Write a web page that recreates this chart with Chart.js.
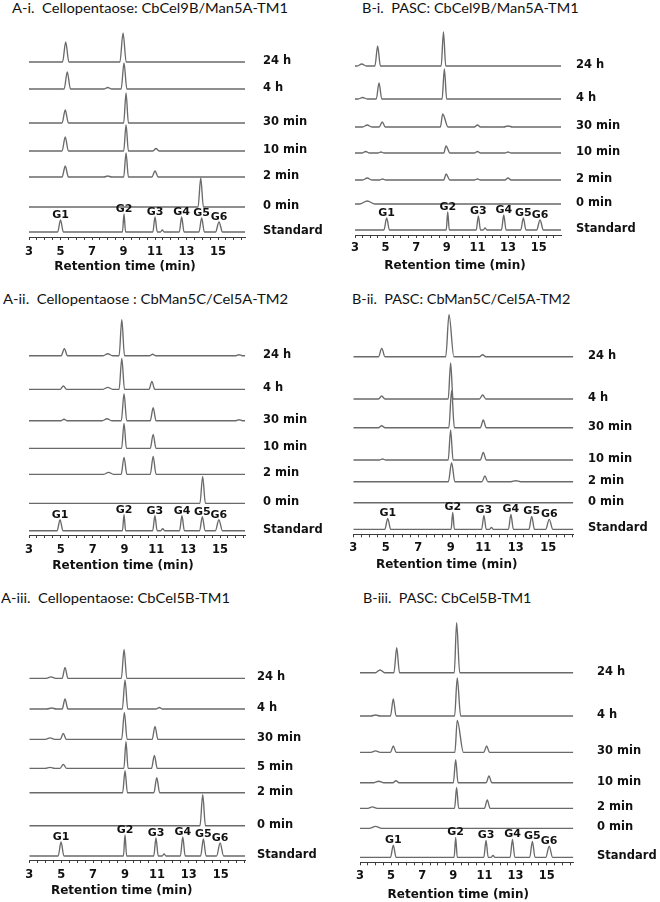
<!DOCTYPE html>
<html><head><meta charset="utf-8">
<script src="https://cdn.jsdelivr.net/npm/chart.js@4.4.1/dist/chart.umd.min.js"></script>
<style>
html,body{margin:0;padding:0;background:#fff;}
#wrap{position:relative;width:660px;height:902px;overflow:hidden;background:#fff;}
canvas{position:absolute;}
.ttl{position:absolute;font-family:Lato,'Open Sans',sans-serif;font-size:13px;line-height:13px;white-space:pre;color:#111;transform-origin:0 0;}
</style></head><body><div id="wrap"></div>
<script>
// ---------- DATA ----------
const timeLabels   = ['24 h','4 h','30 min','10 min','2 min','0 min','Standard'];
const timeLabelsA3 = ['24 h','4 h','30 min','5 min','2 min','0 min','Standard'];
const standardNames = ['G1','G2','G3','G4','G5','G6'];
const axisTitle = 'Retention time (min)';
const xTickLabels = [3,5,7,9,11,13,15];

// peaks per trace: [retention time (min), peak height, half-width left, half-width right]
const peaksA1 = [
  [[5.33,20,0.2],[8.97,29,0.2]],
  [[5.43,17,0.2],[8.0,1.5,0.25],[9.03,26,0.18]],
  [[5.3,13,0.2],[9.16,30,0.15]],
  [[5.3,14,0.2],[9.16,26,0.15],[11.06,2.5,0.2]],
  [[5.3,11,0.2],[8.0,1,0.25],[9.16,24,0.15],[11.0,6,0.2]],
  [[13.9,29,0.17]],
  [[5.0,12,0.18],[9.03,18,0.1],[11.0,15,0.14],[11.46,2,0.12],[12.69,15,0.15],[13.96,14,0.17],[15.06,10,0.22]]
];
const stackA1 = [175,148,114,86,60,30,5];

const peaksB1 = [
  [[3.44,2,0.3],[4.48,20,0.18],[8.78,34,0.15]],
  [[3.5,1.5,0.3],[4.57,16,0.18],[8.84,30,0.15]],
  [[3.8,2,0.3],[4.78,5,0.2],[8.73,13,0.15,0.35],[11.0,2,0.2],[13.0,1,0.3]],
  [[3.7,1.5,0.25],[4.7,1,0.2],[8.95,7,0.15,0.25],[11.0,1.5,0.2],[13.0,1,0.2]],
  [[3.8,2,0.3],[4.8,1,0.2],[8.95,6,0.15,0.25],[11.0,1,0.2],[13.0,2,0.2]],
  [[3.8,3,0.5]],
  [[5.07,12,0.18],[9.06,18,0.1],[11.06,14,0.14],[11.5,2,0.12],[12.72,15,0.15],[14.0,12,0.17],[15.09,10,0.22]]
];
const stackB1 = [169,136,108,82,55,31,5];

const peaksA2 = [
  [[5.22,7,0.2],[7.95,2,0.3],[8.83,36,0.17],[10.77,1.5,0.2],[16.2,1,0.2]],
  [[5.16,3.3,0.2],[7.95,2,0.3],[8.83,31,0.17],[10.72,8,0.18]],
  [[5.2,1.5,0.2],[7.9,2,0.3],[8.97,27,0.17],[10.8,13,0.18],[16.2,1,0.2]],
  [[8.97,25,0.15],[10.8,14,0.18]],
  [[8.0,2,0.3],[8.97,17,0.18],[10.8,18,0.18]],
  [[13.91,27,0.17]],
  [[4.95,11,0.18],[8.97,16,0.1],[10.91,15,0.14],[11.4,2,0.12],[12.61,15,0.15],[13.89,14,0.17],[14.93,11,0.22]]
];
const stackA2 = [179.3,145.7,114.3,86.7,60.7,31.7,4.3];

const peaksB2 = [
  [[4.75,8.3,0.2],[8.89,42,0.2,0.3],[10.96,2,0.2]],
  [[4.75,3,0.2],[8.99,36,0.15],[10.96,4,0.2]],
  [[4.75,2,0.2],[9.05,37,0.17],[11.0,7.7,0.18]],
  [[4.8,1,0.2],[8.99,30,0.15],[11.0,7.7,0.18]],
  [[9.05,19,0.2],[11.1,5.7,0.18],[13.0,1,0.3]],
  [],
  [[5.12,11,0.18],[9.12,17,0.1],[11.04,14,0.14],[11.5,2,0.12],[12.7,15,0.15],[13.98,13,0.17],[15.06,10,0.22]]
];
const stackB2 = [177.6,135.3,106.6,74.3,52.6,31.6,5];

const peaksA3 = [
  [[4.36,1.5,0.3],[5.24,11,0.18],[8.94,29,0.17]],
  [[4.4,1,0.3],[5.24,10,0.18],[9.0,29,0.17],[11.15,1.5,0.2]],
  [[4.3,1.5,0.3],[5.13,6,0.18],[8.96,27,0.17],[10.88,13,0.18]],
  [[4.3,1,0.3],[5.13,4,0.2],[9.06,27,0.13],[10.84,13,0.18]],
  [[9.0,22,0.15],[10.99,15,0.18]],
  [[13.87,31,0.17]],
  [[4.99,14,0.18],[9.0,21,0.1],[10.94,18,0.14],[11.45,2,0.12],[12.62,19,0.15],[13.91,17,0.17],[14.96,13,0.22]]
];
const stackA3 = [181.7,151,120.7,91.7,67.3,34.3,4];

const peaksB3 = [
  [[4.29,2.7,0.3],[5.36,25,0.18],[9.21,50,0.15,0.2]],
  [[4.0,1,0.3],[5.14,17,0.18],[9.25,38,0.17,0.22]],
  [[4.0,1.5,0.3],[5.14,6.3,0.18],[9.25,32,0.15,0.4],[11.14,6.3,0.18]],
  [[4.2,1.5,0.3],[5.31,2,0.2],[9.15,23,0.15],[11.29,6.7,0.18]],
  [[3.8,1.5,0.3],[9.21,21,0.13],[11.18,8.3,0.18]],
  [[4.0,2,0.4]],
  [[5.14,12,0.18],[9.15,20,0.1],[11.1,17,0.14],[11.55,2,0.12],[12.8,18,0.15],[14.08,16,0.17],[15.16,11,0.22]]
];
const stackB3 = [189.6,146.3,110,79.6,54,34,5];

// ---------- LAYOUT ----------
const panels = [
 {title:'A-i.  Cellopentaose: CbCel9B/Man5A-TM1', labels:timeLabels, peaks:peaksA1, stack:stackA1,
  left:0, x3:29, xEnd:245, xmax:16.71, top:25, axisY:237, tickY:252, axTX:125, axTY:267, labelX:263,
  tX:12, tCap:4, tW:276},
 {title:'B-i.  PASC: CbCel9B/Man5A-TM1', labels:timeLabels, peaks:peaksB1, stack:stackB1,
  left:330, x3:355, xEnd:561, xmax:16.46, top:25, axisY:235, tickY:248, axTX:455, axTY:266, labelX:576,
  tX:361.7, tCap:4, tW:216.6},
 {title:'A-ii.  Cellopentaose : CbMan5C/Cel5A-TM2', labels:timeLabels, peaks:peaksA2, stack:stackA2,
  left:0, x3:29, xEnd:245, xmax:16.57, top:315, axisY:535, tickY:550, axTX:123, axTY:566, labelX:263,
  tX:3.3, tCap:295, tW:285},
 {title:'B-ii.  PASC: CbMan5C/Cel5A-TM2', labels:timeLabels, peaks:peaksB2, stack:stackB2,
  left:330, x3:353.3, xEnd:573.3, xmax:16.54, top:310, axisY:534.3, tickY:548, axTX:446.7, axTY:565, labelX:588,
  tX:351.7, tCap:295, tW:218.3},
 {title:'A-iii.  Cellopentaose: CbCel5B-TM1', labels:timeLabelsA3, peaks:peaksA3, stack:stackA3,
  left:0, x3:29.3, xEnd:245, xmax:16.52, top:640, axisY:860, tickY:874.3, axTX:121.7, axTY:891, labelX:257,
  tX:1, tCap:594.3, tW:229},
 {title:'B-iii.  PASC: CbCel5B-TM1', labels:timeLabels, peaks:peaksB3, stack:stackB3,
  left:330, x3:360, xEnd:573.3, xmax:16.71, top:615, axisY:862.3, tickY:876, axTX:458.3, axTY:895, labelX:597,
  tX:363.3, tCap:594.3, tW:168.4}
];

const TRACE = '#6a6a6a', AXIS = '#3c3c3c', TEXT = '#111';
const LBL_FONT = 'bold 11.5px "DejaVu Sans"';
const G_FONT = 'bold 11px "DejaVu Sans"';
const AXT_FONT = 'bold 12px "DejaVu Sans"';

function tracePoints(peaks, base, x0, x1) {
  const pts = [{x:x0, y:base}];
  peaks.forEach(pk => {
    const t = pk[0], h = pk[1], wl = pk[2], wr = (pk[3] !== undefined ? pk[3] : pk[2]);
    pts.push({x:t-wl, y:base}, {x:t, y:base+h}, {x:t+wr, y:base});
  });
  pts.push({x:x1, y:base});
  return pts;
}

function makeOverlay(p) {
  return {
    id:'overlay',
    afterDraw(chart) {
      const ctx = chart.ctx, xs = chart.scales.x, ys = chart.scales.y;
      ctx.save();
      ctx.fillStyle = TEXT;
      ctx.font = LBL_FONT; ctx.textAlign = 'left'; ctx.textBaseline = 'middle';
      p.labels.forEach((lab, i) => ctx.fillText(lab, p.labelX - p.left, ys.getPixelForValue(p.stack[i]) - 1));
      ctx.font = G_FONT; ctx.textAlign = 'center'; ctx.textBaseline = 'alphabetic';
      const std = p.peaks[p.peaks.length - 1], base = p.stack[p.stack.length - 1];
      let k = 0;
      std.forEach(pk => {
        if (pk[1] >= 5 && k < standardNames.length) {
          ctx.fillText(standardNames[k++], xs.getPixelForValue(pk[0]), ys.getPixelForValue(base + pk[1]) - 2);
        }
      });
      ctx.font = AXT_FONT; ctx.textAlign = 'center'; ctx.textBaseline = 'middle';
      ctx.fillText(axisTitle, p.axTX - p.left, p.axTY - p.top);
      ctx.restore();
    }
  };
}

const wrap = document.getElementById('wrap');
panels.forEach(p => {
  // title
  const d = document.createElement('div');
  d.className = 'ttl'; d.textContent = p.title;
  d.style.left = p.tX + 'px'; d.style.top = (p.tCap - 2.2) + 'px';
  wrap.appendChild(d);
  const w = d.getBoundingClientRect().width;
  d.style.transform = 'scaleX(' + (p.tW / w) + ')';

  // chart
  const H = Math.round(p.axTY + 9 - p.top);
  const cv = document.createElement('canvas');
  cv.width = 330; cv.height = H;
  cv.style.left = p.left + 'px'; cv.style.top = p.top + 'px';
  cv.style.width = '330px'; cv.style.height = H + 'px';
  wrap.appendChild(cv);
  const ymax = p.axisY - p.top;
  const axisH = H - ymax;
  const tickPad = p.tickY - p.axisY - 6.6 - 3;

  const datasets = p.peaks.map((pk, i) => ({
    label: p.labels[i],
    data: tracePoints(pk, p.stack[i], 3, p.xmax),
    borderColor: TRACE, borderWidth: 1.35, pointRadius: 0, fill: false,
    cubicInterpolationMode: 'monotone'
  }));

  new Chart(cv, {
    type: 'line',
    data: { datasets },
    options: {
      responsive: false, animation: false, events: [],
      layout: { autoPadding: false, padding: { left: p.x3 - p.left, right: p.left + 330 - p.xEnd, top: 0, bottom: 0 } },
      plugins: { legend: { display: false }, tooltip: { enabled: false }, title: { display: false } },
      scales: {
        x: {
          type: 'linear', min: 3, max: p.xmax,
          border: { display: true, color: AXIS, width: 1 },
          grid: { display: true, drawOnChartArea: false, drawTicks: true, tickLength: 3, color: AXIS, lineWidth: 1 },
          ticks: {
            stepSize: 0.5, autoSkip: false, maxRotation: 0, minRotation: 0, includeBounds: false,
            padding: tickPad, color: TEXT,
            font: { family: 'DejaVu Sans', size: 11.5, weight: 'bold' },
            callback: v => (xTickLabels.indexOf(v) >= 0 ? String(v) : '')
          },
          afterFit: s => { s.height = axisH; }
        },
        y: { display: false, min: 0, max: ymax }
      }
    },
    plugins: [makeOverlay(p)]
  });
});
</script></body></html>
